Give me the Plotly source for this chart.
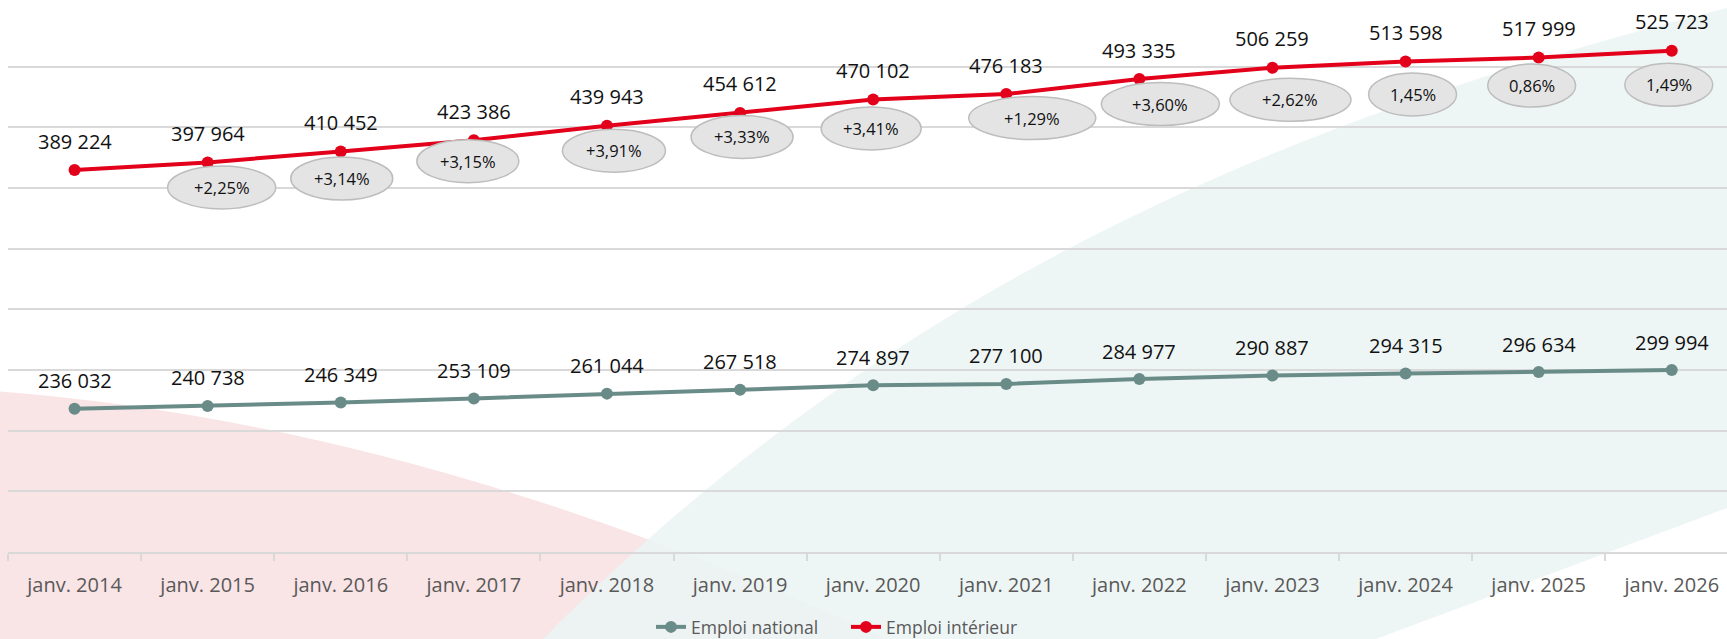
import plotly.graph_objects as go

# données
mois = ["janv. 2014", "janv. 2015", "janv. 2016", "janv. 2017", "janv. 2018", "janv. 2019",
        "janv. 2020", "janv. 2021", "janv. 2022", "janv. 2023", "janv. 2024", "janv. 2025",
        "janv. 2026"]
emploi_national = [236032, 240738, 246349, 253109, 261044, 267518, 274897,
                   277100, 284977, 290887, 294315, 296634, 299994]
emploi_interieur = [389224, 397964, 410452, 423386, 439943, 454612, 470102,
                    476183, 493335, 506259, 513598, 517999, 525723]
variation = ["", "+2,25%", "+3,14%", "+3,15%", "+3,91%", "+3,33%", "+3,41%",
             "+1,29%", "+3,60%", "+2,62%", "1,45%", "0,86%", "1,49%"]

# style
ROUGE = "#e2001a"
VERT = "#6a8c89"
GRIS = "#595959"
FONT = "Open Sans"
# décalage (px) des bulles de variation par rapport au point rouge : dx, dy (vers le bas), largeur
bulles = [None, (14, 25, 108), (1, 27, 102), (-6, 21, 102), (7, 25, 103), (2, 24, 102),
          (-2, 29, 100), (26, 24, 127), (21, 25, 118), (18, 32, 121), (7, 33, 88),
          (-7, 28, 88), (-3, 34, 88)]

# zone de tracé en pixels (pour les formes décoratives du fond)
L, T, W, H = 8, 6, 1719, 546


def px(x, y):
    return f"{(x - L) / W:.4f},{(T + H - y) / H:.4f}"


fig = go.Figure()
fig.add_trace(go.Scatter(x=mois, y=emploi_national, name="Emploi national", mode="lines+markers",
                         line=dict(color=VERT, width=4), marker=dict(size=12, color=VERT)))
fig.add_trace(go.Scatter(x=mois, y=emploi_interieur, name="Emploi intérieur", mode="lines+markers",
                         line=dict(color=ROUGE, width=4), marker=dict(size=12, color=ROUGE),
                         yaxis="y2"))

annotations = []
shapes = [
    dict(type="path", xref="paper", yref="paper", layer="below", line_width=0,
         fillcolor="#f9e4e6",
         path=f"M{px(-20, 390)} Q{px(420, 420)} {px(900, 645)} L{px(-20, 645)} Z"),
    dict(type="path", xref="paper", yref="paper", layer="below", line_width=0,
         fillcolor="rgba(235,244,243,0.85)",
         path=f"M{px(537, 645)} C{px(887, 289)} {px(1277, 120)} {px(1735, 6)} "
              f"L{px(1735, 505)} L{px(1360, 645)} Z"),
]

for i, m in enumerate(mois):
    annotations.append(dict(x=m, y=emploi_national[i], xref="x", yref="y", yshift=28,
                            text=f"{emploi_national[i]:,}".replace(",", " "), showarrow=False,
                            font=dict(size=20, color="#111", family=FONT)))
    annotations.append(dict(x=m, y=emploi_interieur[i], xref="x", yref="y2", yshift=29,
                            text=f"{emploi_interieur[i]:,}".replace(",", " "), showarrow=False,
                            font=dict(size=20, color="#111", family=FONT)))
    if bulles[i]:
        dx, dy, w = bulles[i]
        shapes.append(dict(type="circle", xref="x", yref="y2", layer="above",
                           xsizemode="pixel", ysizemode="pixel",
                           xanchor=m, yanchor=emploi_interieur[i],
                           x0=dx - w / 2, x1=dx + w / 2, y0=-dy - 21.5, y1=-dy + 21.5,
                           fillcolor="#e4e4e5", line=dict(color="#bdbdbd", width=1.5)))
        annotations.append(dict(x=m, y=emploi_interieur[i], xref="x", yref="y2",
                                xshift=dx, yshift=-dy, text=variation[i], showarrow=False,
                                font=dict(size=16.5, color="#111", family=FONT)))

fig.update_layout(
    width=1727, height=639,
    margin=dict(l=L, r=0, t=T, b=639 - T - H),
    paper_bgcolor="white", plot_bgcolor="rgba(0,0,0,0)",
    font=dict(family=FONT, color=GRIS),
    showlegend=True,
    legend=dict(orientation="h", xref="container", yref="container", x=846 / 1727,
                xanchor="center", y=12 / 639, yanchor="middle", entrywidth=150,
                font=dict(size=17.5, color=GRIS), bgcolor="rgba(0,0,0,0)"),
    xaxis=dict(type="category", range=[-0.5, 12.415], showgrid=False, showline=True,
               linecolor="#d9d9d9", linewidth=1.5, ticks="outside", tickson="boundaries",
               ticklen=7, tickcolor="#d9d9d9", tickwidth=1.5, ticklabelstandoff=14,
               tickfont=dict(size=20, color=GRIS, family=FONT)),
    yaxis=dict(range=[0, 900000], dtick=100000, showgrid=True, gridcolor="#d9d9d9",
               gridwidth=1.5, zeroline=False, showticklabels=False),
    yaxis2=dict(range=[-48000, 577000], overlaying="y", side="right", showgrid=False,
                zeroline=False, showticklabels=False, visible=False),
    shapes=shapes,
    annotations=annotations,
)

fig.write_html("out.html", config={"displayModeBar": False},
               post_script="document.body.style.margin='0';")
